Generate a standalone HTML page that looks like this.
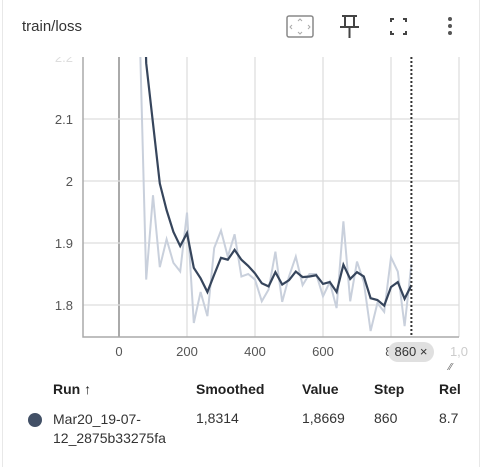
<!DOCTYPE html>
<html><head><meta charset="utf-8"><style>
body{margin:0;width:483px;height:467px;background:#fff;font-family:"Liberation Sans",sans-serif;overflow:hidden;position:relative;color:#212121}
.card{position:absolute;left:2px;top:0;width:476px;height:467px;border-left:1px solid #e8e8e8;border-right:1px solid #e8e8e8}
.t{position:absolute;white-space:nowrap}
</style></head><body>
<div class="card"></div>
<div class="t" style="left:22px;top:18px;font-size:15px;color:#333">train/loss</div>
<svg width="483" height="467" style="position:absolute;left:0;top:0">
 <g><rect x="287" y="16" width="26" height="21" rx="2" fill="none" stroke="#888" stroke-width="1.5"/><path d="M298 21 l2-2 2 2 M298 32 l2 2 2-2 M292 25 l-2 2 2 2 M308 25 l2 2-2 2" stroke="#aaa" fill="none"/></g>
 <g stroke="#444" stroke-width="2" fill="none"><path d="M342 16h15M345 17v9M354 17v9M340 27h19M349.5 27v11"/></g>
 <g stroke="#444" stroke-width="2" fill="none"><path d="M391 22v-3h3M406 22v-3h-3M391 31v3h3M406 31v3h-3"/></g>
 <g fill="#555"><circle cx="450" cy="19" r="2"/><circle cx="450" cy="26" r="2"/><circle cx="450" cy="33" r="2"/></g>
</svg>
<svg id="chart" width="483" height="467" style="position:absolute;left:0;top:0"></svg>
<div class="t" style="left:388px;top:342px;width:46px;height:20px;background:#e0e0e0;border-radius:10px;font-size:13px;line-height:20px;text-align:center;color:#333">860 ×</div>
<div class="t" style="left:449px;top:362px;font-size:10px;color:#666">⁄⁄</div>
<div class="t" style="left:53px;top:381px;font-size:14px;font-weight:bold">Run ↑</div>
<div class="t" style="left:196px;top:381px;font-size:14px;font-weight:bold">Smoothed</div>
<div class="t" style="left:302px;top:381px;font-size:14px;font-weight:bold">Value</div>
<div class="t" style="left:374px;top:381px;font-size:14px;font-weight:bold">Step</div>
<div class="t" style="left:439px;top:381px;font-size:14px;font-weight:bold">Rel</div>
<div style="position:absolute;left:28px;top:413px;width:14px;height:14px;border-radius:50%;background:#425066"></div>
<div class="t" style="left:53px;top:410px;font-size:14px;line-height:19px;color:#333">Mar20_19-07-<br>12_2875b33275fa</div>
<div class="t" style="left:196px;top:410px;font-size:14px;color:#333">1,8314</div>
<div class="t" style="left:302px;top:410px;font-size:14px;color:#333">1,8669</div>
<div class="t" style="left:374px;top:410px;font-size:14px;color:#333">860</div>
<div class="t" style="left:439px;top:410px;font-size:14px;color:#333">8.7</div>
<script>
const steps=[60,80,100,120,140,160,180,200,220,240,260,280,300,320,340,360,380,400,420,440,460,480,500,520,540,560,580,600,620,640,660,680,700,720,740,760,780,800,820,840,860];
const rawValues=[2.26,1.841,1.977,1.861,1.906,1.868,1.854,1.949,1.771,1.821,1.782,1.892,1.920,1.878,1.914,1.846,1.850,1.841,1.806,1.825,1.886,1.805,1.846,1.878,1.832,1.850,1.850,1.814,1.837,1.795,1.935,1.806,1.870,1.837,1.758,1.803,1.789,1.877,1.854,1.766,1.866];
const smoothedValues=[2.6,2.19,2.093,1.996,1.953,1.918,1.895,1.916,1.860,1.843,1.821,1.849,1.876,1.873,1.889,1.873,1.863,1.851,1.835,1.830,1.853,1.833,1.840,1.854,1.845,1.846,1.848,1.834,1.837,1.821,1.865,1.842,1.853,1.846,1.811,1.808,1.799,1.829,1.837,1.810,1.832];
const xTicks=[0,200,400,600,800,1000];
const xTickLabels=["0","200","400","600","8(","1,0"];
const yTicks=[1.8,1.9,2.0,2.1,2.2];
const yTickLabels=["1.8","1.9","2","2.1","2.2"];
const cursorStep=860;
const L=83,R=459,T=57,B=337;
const xs=s=>119+s*0.34;
const ys=v=>305-(v-1.8)*620;
const svg=document.getElementById('chart');
const NS='http://www.w3.org/2000/svg';
function mk(tag,at){const e=document.createElementNS(NS,tag);for(const k in at)e.setAttribute(k,at[k]);svg.appendChild(e);return e;}
const defs=mk('defs',{});
const cp=document.createElementNS(NS,'clipPath');cp.setAttribute('id','c');
const cr=document.createElementNS(NS,'rect');cr.setAttribute('x',L);cr.setAttribute('y',T);cr.setAttribute('width',R-L);cr.setAttribute('height',B-T);
cp.appendChild(cr);defs.appendChild(cp);
const cp2=document.createElementNS(NS,'clipPath');cp2.setAttribute('id','c2');
const cr2=document.createElementNS(NS,'rect');cr2.setAttribute('x',0);cr2.setAttribute('y',T);cr2.setAttribute('width',483);cr2.setAttribute('height',B-T);
cp2.appendChild(cr2);defs.appendChild(cp2);
xTicks.forEach((t,i)=>{
 const g=mk('line',{x1:xs(t),x2:xs(t),y1:T,y2:B,stroke:t===0?'#aaa':'#ddd','stroke-width':t===0?2:1.2});
 
 
 const tx=mk('text',{x:xs(t),y:B+19,'text-anchor':'middle','font-size':13,fill:i===5?'#ccc':'#555','font-family':'Liberation Sans, sans-serif'});
 tx.textContent=xTickLabels[i];
 
 
});
yTicks.forEach((t,i)=>{
 if(ys(t)>T+2){
 const g=mk('line',{x1:L,x2:R,y1:ys(t),y2:ys(t),stroke:'#ddd','stroke-width':1.2});
 
 
 }
 const tx=mk('text',{x:73,y:ys(t)+5,'text-anchor':'end','font-size':13,fill:i===4?'#ddd':'#555','font-family':'Liberation Sans, sans-serif','clip-path':'url(#c2)'});
 tx.textContent=yTickLabels[i];
 
 
});
const ax=mk('path',{d:`M${L} ${T}V${B}H${R}`,stroke:'#aaa','stroke-width':1.5,fill:'none'});


const pts=a=>a.map((v,i)=>`${xs(steps[i])},${ys(v)}`).join(' ');
const raw=mk('polyline',{points:pts(rawValues),fill:'none',stroke:'#c9d0dc','stroke-width':2,'clip-path':'url(#c)'});


const sm=mk('polyline',{points:pts(smoothedValues),fill:'none',stroke:'#36455c','stroke-width':2.2,'clip-path':'url(#c)'});


const cur=mk('line',{x1:xs(cursorStep),x2:xs(cursorStep),y1:T,y2:B,stroke:'#333','stroke-width':2,'stroke-dasharray':'2,2'});


</script>
</body></html>
